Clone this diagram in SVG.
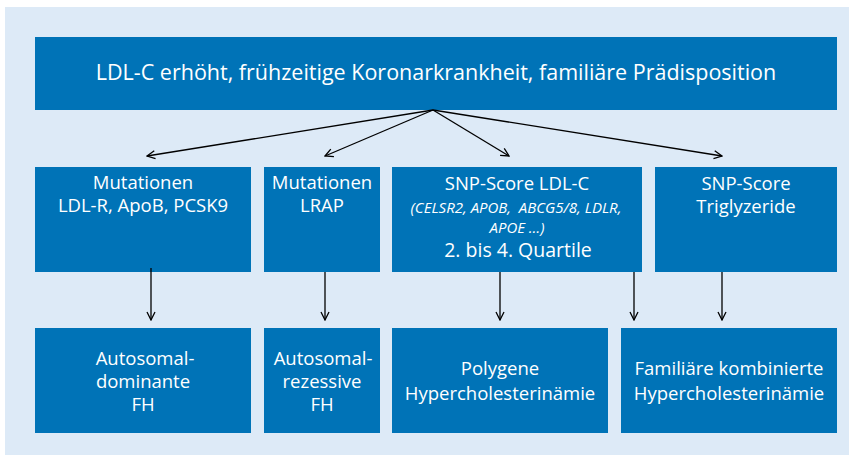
<svg xmlns="http://www.w3.org/2000/svg" width="853" height="459" viewBox="0 0 853 459">
<style>
.bg{fill:#ddeaf7}
.box{fill:#0073b7}
text{font-family:"Open Sans","Liberation Sans",sans-serif;fill:#fff;text-anchor:middle;font-size:18.5px}
.it{font-style:italic;font-size:15px}
.c{stroke:#000;stroke-width:1.3;fill:none;marker-end:url(#ah)}
</style>
<defs>
<marker id="ah" viewBox="0 0 10 10" refX="9" refY="5" markerWidth="10" markerHeight="10" markerUnits="userSpaceOnUse" orient="auto">
<path d="M1,1 L9,5 L1,9" fill="none" stroke="#000" stroke-width="1.3"/>
</marker>
</defs>
<rect class="bg" x="5" y="7" width="844" height="448"/>
<g id="top">
<rect class="box" x="35" y="37" width="802" height="73"/>
<text x="436" y="80" style="font-size:21.5px">LDL-C erhöht, frühzeitige Koronarkrankheit, familiäre Prädisposition</text>
</g>
<g id="mut1">
<rect class="box" x="35" y="167" width="216" height="105"/>
<text x="143" y="189">Mutationen</text>
<text x="143" y="212">LDL-R, ApoB, PCSK9</text>
</g>
<g id="mut2">
<rect class="box" x="264" y="167" width="116" height="105"/>
<text x="322" y="189">Mutationen</text>
<text x="322" y="212">LRAP</text>
</g>
<g id="snp1">
<rect class="box" x="392" y="167" width="250" height="105"/>
<text x="517" y="190">SNP-Score LDL-C</text>
<text class="it" x="516" y="213" xml:space="preserve">(CELSR2, APOB,  ABCG5/8, LDLR,</text>
<text class="it" x="517" y="233">APOE …)</text>
<text x="518" y="257" style="font-size:19.5px">2. bis 4. Quartile</text>
</g>
<g id="snp2">
<rect class="box" x="655" y="167" width="182" height="105"/>
<text x="746" y="190">SNP-Score</text>
<text x="746" y="213">Triglyzeride</text>
</g>
<g id="ad">
<rect class="box" x="35" y="328" width="216" height="105"/>
<text x="145" y="365">Autosomal-</text>
<text x="143" y="388">dominante</text>
<text x="143" y="411">FH</text>
</g>
<g id="ar">
<rect class="box" x="264" y="328" width="116" height="105"/>
<text x="323" y="365">Autosomal-</text>
<text x="322" y="388">rezessive</text>
<text x="322" y="411">FH</text>
</g>
<g id="poly">
<rect class="box" x="392" y="328" width="216" height="105"/>
<text x="500" y="375">Polygene</text>
<text x="500" y="400">Hypercholesterinämie</text>
</g>
<g id="fkh">
<rect class="box" x="621" y="328" width="216" height="105"/>
<text x="729" y="375">Familiäre kombinierte</text>
<text x="729" y="400">Hypercholesterinämie</text>
</g>
<g id="connectors">
<path class="c" d="M433,110 L147,156"/>
<path class="c" d="M433,110 L325,156"/>
<path class="c" d="M433,110 L509,156"/>
<path class="c" d="M433,110 L722,156"/>
<path class="c" d="M151,268 L151,320"/>
<path class="c" d="M325,272 L325,320"/>
<path class="c" d="M500,272 L500,320"/>
<path class="c" d="M634,272 L634,320"/>
<path class="c" d="M722,272 L722,320"/>
</g>
</svg>
